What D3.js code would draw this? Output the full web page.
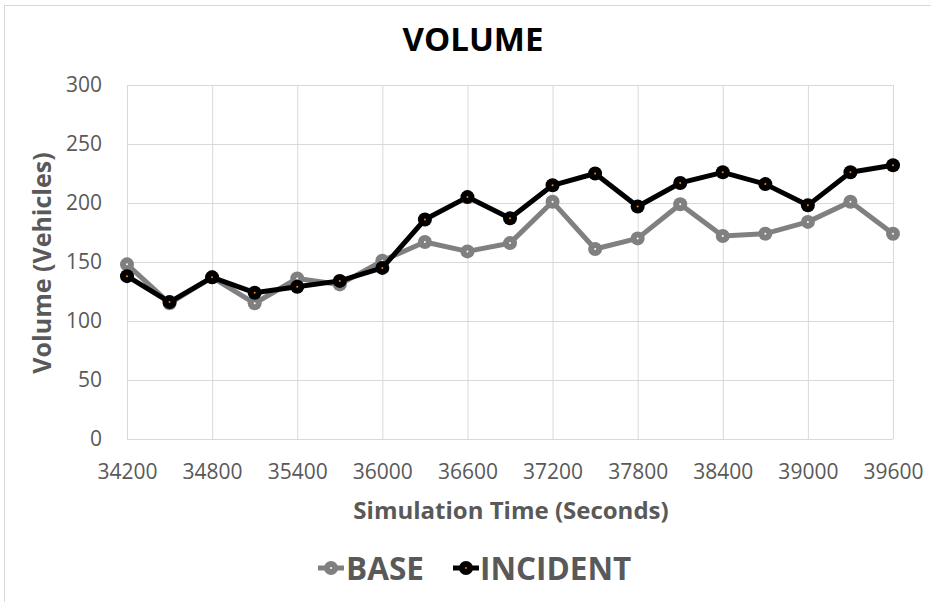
<!DOCTYPE html>
<html>
<head>
<meta charset="utf-8">
<script src="https://cdn.jsdelivr.net/npm/d3@7"></script>
<style>
  body { margin: 0; background: #fff; }
  text { font-family: "Open Sans", sans-serif; }
</style>
</head>
<body>
<script>
// simulation time (s)
let times = [34200, 34500, 34800, 35100, 35400, 35700, 36000, 36300, 36600, 36900,
  37200, 37500, 37800, 38100, 38400, 38700, 39000, 39300, 39600]
let baseVol = [148, 115, 137, 115, 136, 131, 151, 167, 159, 166,
  201, 161, 170, 199, 172, 174, 184, 201, 174]
let incidentVol = [138, 116, 137, 124, 129, 134, 145, 186, 205, 187,
  215, 225, 197, 217, 226, 216, 198, 226, 232]
let xTicks = [34200, 34800, 35400, 36000, 36600, 37200, 37800, 38400, 39000, 39600]
let yTicks = [0, 50, 100, 150, 200, 250, 300]

let series = [
  { name: 'BASE', values: baseVol, color: '#808080', dot: '#ffffff' },
  { name: 'INCIDENT', values: incidentVol, color: '#000000', dot: '#ff7f0e' }
]

let svg = d3
  .select('body')
  .append('svg')
  .attr('width', 931)
  .attr('height', 602)

// chart border
svg.append('rect')
  .attr('x', 4.5)
  .attr('y', 5.5)
  .attr('width', 940)
  .attr('height', 610)
  .attr('fill', '#fff')
  .attr('stroke', '#d9d9d9')

let x = d3.scaleLinear().domain([34200, 39600]).range([127, 893])
let y = d3.scaleLinear().domain([0, 300]).range([439, 85])

// grid
svg.append('g')
  .attr('transform', 'translate(0,439)')
  .call(d3.axisBottom(x).tickValues(xTicks).tickSize(-354).tickFormat(''))
  .call(g => g.select('.domain').remove())
  .call(g => g.selectAll('line').attr('stroke', '#d9d9d9'))

svg.append('g')
  .attr('transform', 'translate(893,0)')
  .call(d3.axisLeft(y).tickValues(yTicks).tickSize(766).tickFormat(''))
  .call(g => g.select('.domain').remove())
  .call(g => g.selectAll('line').attr('stroke', '#d9d9d9'))

// axis labels
svg.append('g')
  .attr('transform', 'translate(127,0)')
  .call(d3.axisLeft(y).tickValues(yTicks).tickSize(0).tickPadding(25))
  .call(g => g.select('.domain').remove())
  .call(g => g.selectAll('text')
    .attr('fill', '#595959')
    .style('font-size', '21px')
    .style('font-family', '"Open Sans", sans-serif'))

svg.append('g')
  .attr('transform', 'translate(0,439)')
  .call(d3.axisBottom(x).tickValues(xTicks).tickSize(0).tickPadding(25).tickFormat(d3.format('d')))
  .call(g => g.select('.domain').remove())
  .call(g => g.selectAll('text')
    .attr('fill', '#595959')
    .style('font-size', '21px')
    .style('font-family', '"Open Sans", sans-serif'))

// lines + markers
let line = d3.line()
  .x((d, i) => x(times[i]))
  .y(d => y(d))

series.forEach(s => {
  let g = svg.append('g')
  g.append('path')
    .attr('d', line(s.values))
    .attr('fill', 'none')
    .attr('stroke', s.color)
    .attr('stroke-width', 5)
    .attr('stroke-linejoin', 'round')
  g.selectAll('circle.m')
    .data(s.values)
    .join('circle')
    .attr('class', 'm')
    .attr('cx', (d, i) => x(times[i]))
    .attr('cy', d => y(d))
    .attr('r', 7)
    .attr('fill', s.color)
  g.selectAll('circle.c')
    .data(s.values)
    .join('circle')
    .attr('class', 'c')
    .attr('cx', (d, i) => x(times[i]))
    .attr('cy', d => y(d))
    .attr('r', 1)
    .attr('fill', s.dot)
})

// titles
svg.append('text')
  .attr('x', 473)
  .attr('y', 51)
  .attr('text-anchor', 'middle')
  .style('font-size', '33px')
  .style('font-weight', 'bold')
  .attr('fill', '#000')
  .text('VOLUME')

svg.append('text')
  .attr('x', 511)
  .attr('y', 519)
  .attr('text-anchor', 'middle')
  .style('font-size', '24px')
  .style('font-weight', 'bold')
  .attr('fill', '#595959')
  .text('Simulation Time (Seconds)')

svg.append('text')
  .attr('transform', 'translate(51,263) rotate(-90)')
  .attr('text-anchor', 'middle')
  .style('font-size', '25px')
  .style('font-weight', 'bold')
  .attr('fill', '#595959')
  .text('Volume (Vehicles)')

// legend
let legendPos = [{ mx: 331, tx: 346 }, { mx: 466, tx: 480 }]
series.forEach((s, i) => {
  let lg = svg.append('g')
  let p = legendPos[i]
  lg.append('line')
    .attr('x1', p.mx - 13).attr('x2', p.mx + 13)
    .attr('y1', 568).attr('y2', 568)
    .attr('stroke', s.color)
    .attr('stroke-width', 5)
  lg.append('circle')
    .attr('cx', p.mx).attr('cy', 568).attr('r', 7)
    .attr('fill', s.color)
  lg.append('circle')
    .attr('cx', p.mx).attr('cy', 568).attr('r', 1)
    .attr('fill', s.dot)
  lg.append('text')
    .attr('x', p.tx)
    .attr('y', 580)
    .style('font-size', '31.5px')
    .style('font-weight', 'bold')
    .attr('fill', '#595959')
    .text(s.name)
})
</script>
</body>
</html>
